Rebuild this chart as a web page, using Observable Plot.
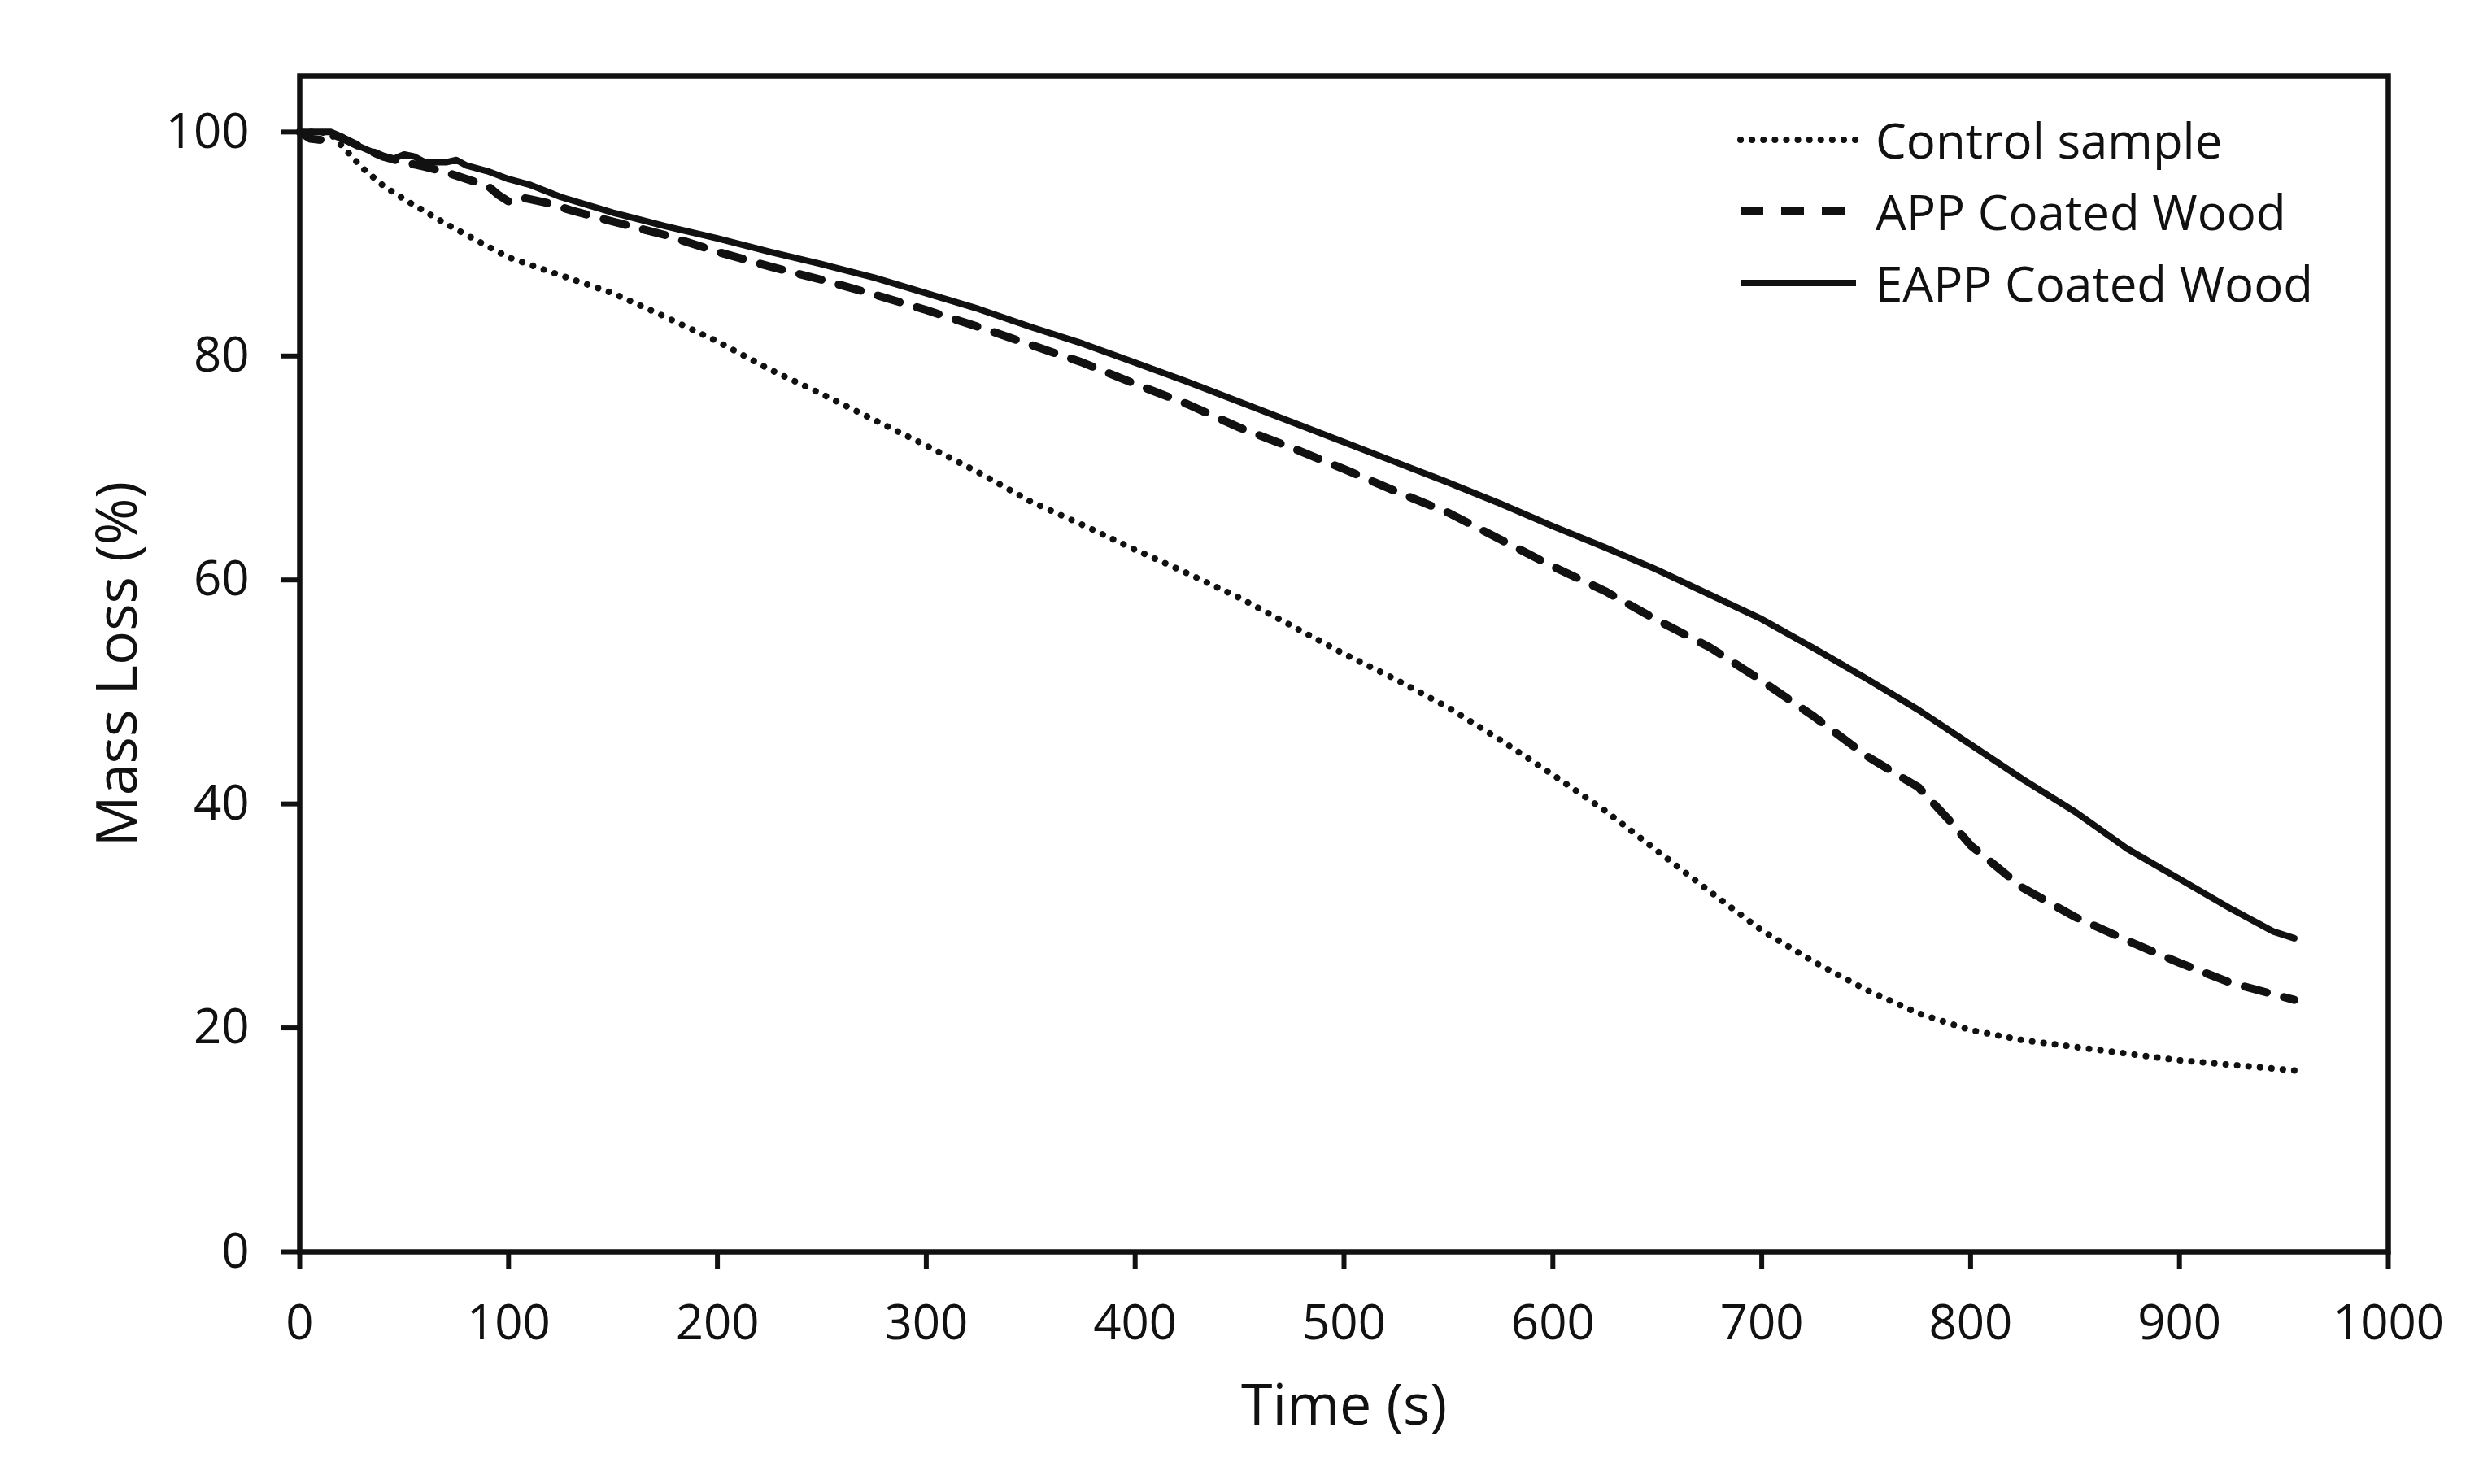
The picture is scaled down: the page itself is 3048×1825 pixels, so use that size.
<!DOCTYPE html>
<html>
<head>
<meta charset="utf-8">
<script src="https://cdn.jsdelivr.net/npm/d3@7"></script>
<script src="https://cdn.jsdelivr.net/npm/@observablehq/plot@0.6"></script>
<style>
  html, body { margin: 0; padding: 0; background: #fff; }
  #wrap { position: relative; width: 3048px; height: 1825px; font-family: "Open Sans", sans-serif; }
  #legend { position: absolute; left: 2136px; top: 128px; font-size: 60px; color: #111; line-height: 1; }
  .row { display: flex; align-items: center; height: 88px; }
  .row svg { margin-right: 20px; }
</style>
</head>
<body>
<div id="wrap"></div>
<script>
// ---- data ----
const seriesNames = ["Control sample", "APP Coated Wood", "EAPP Coated Wood"];

const controlTime = [0,5,10,15,20,25,30,40,50,60,70,80,90,100,125,150,175,200,225,250,275,300,325,350,375,400,425,450,475,500,525,550,575,600,625,650,675,700,725,750,775,800,825,850,875,900,925,955];
const controlMass = [100,100,100,99.8,98.8,97.8,96.8,95.2,94.0,92.9,91.8,90.8,89.8,88.8,87.2,85.6,83.5,81.3,78.8,76.6,74.3,72.0,69.6,67.0,64.9,62.7,60.6,58.4,55.9,53.4,51.1,48.6,45.7,42.6,39.4,35.8,32.2,28.7,25.9,23.4,21.3,19.8,18.9,18.3,17.7,17.1,16.7,16.2];

const appTime = [0,5,10,15,20,30,40,50,60,70,80,90,95,100,105,110,120,130,150,175,200,225,250,275,300,325,350,375,400,425,450,475,500,525,550,575,600,625,650,675,700,725,750,765,775,790,800,825,850,875,900,925,955];
const appMass = [100,99.4,99.3,99.8,99.5,98.6,97.8,97.3,96.9,96.4,95.8,95.2,94.4,93.8,94.2,94.0,93.6,93.0,92.0,90.8,89.3,88.0,86.8,85.5,84.1,82.6,81.0,79.4,77.5,75.7,73.6,71.8,69.9,67.9,66.0,63.6,61.2,59.0,56.4,54.0,51.0,47.8,44.3,42.6,41.5,38.5,36.3,32.5,29.9,27.8,25.8,24.0,22.5];

const eappTime = [0,5,10,15,20,25,30,40,45,50,55,60,70,75,80,90,100,110,125,150,175,200,225,250,275,300,325,350,375,400,425,450,475,500,525,550,575,600,625,650,675,700,725,750,775,800,825,850,875,900,925,945,955];
const eappMass = [100,100,100,100,99.6,99.0,98.6,97.8,97.6,98.0,97.8,97.3,97.3,97.5,97.0,96.5,95.8,95.3,94.2,92.8,91.6,90.5,89.3,88.2,87.0,85.6,84.2,82.6,81.1,79.4,77.7,75.9,74.1,72.3,70.5,68.7,66.8,64.8,62.9,60.9,58.7,56.5,53.9,51.2,48.4,45.3,42.2,39.3,36.0,33.3,30.6,28.6,28.0];

const xTicks = [0,100,200,300,400,500,600,700,800,900,1000];
const yTicks = [0,20,40,60,80,100];

// ---- build tables ----
const toRows = (ts, vs) => ts.map((t, i) => ({t, v: vs[i]}));
const control = toRows(controlTime, controlMass);
const app = toRows(appTime, appMass);
const eapp = toRows(eappTime, eappMass);

const styles = [
  {width: 8, dash: "0.1,14", cap: "round"},
  {width: 10, dash: "28,22", cap: "butt"},
  {width: 8, dash: null, cap: "butt"}
];

const fmt = d3.format("d");

const chart = Plot.plot({
  width: 3048,
  height: 1825,
  marginLeft: 368,
  marginRight: 112,
  marginTop: 93,
  marginBottom: 286,
  style: {fontFamily: "Open Sans, sans-serif", fontSize: "60px", color: "#111", background: "#fff"},
  x: {domain: [0, 1000]},
  y: {domain: [0, 105]},
  marks: [
    Plot.axisX({ticks: xTicks, tickFormat: fmt, tickSize: 22, tickPadding: 43, strokeWidth: 6, fontSize: 60, label: "Time (s)", labelAnchor: "center", labelOffset: 212, labelArrow: "none"}),
    Plot.axisY({ticks: yTicks, tickFormat: fmt, tickSize: 22, tickPadding: 40, strokeWidth: 6, fontSize: 60, label: "Mass Loss (%)", labelAnchor: "center", labelOffset: 250, labelArrow: "none"}),
    Plot.line(control, {x: "t", y: "v", stroke: "#111", strokeWidth: styles[0].width, strokeDasharray: styles[0].dash, strokeLinecap: styles[0].cap}),
    Plot.line(app, {x: "t", y: "v", stroke: "#111", strokeWidth: styles[1].width, strokeDasharray: styles[1].dash}),
    Plot.line(eapp, {x: "t", y: "v", stroke: "#111", strokeWidth: styles[2].width}),
    Plot.frame({stroke: "#111", strokeWidth: 6.5})
  ]
});

// enlarge axis titles
chart.querySelectorAll("[aria-label='x-axis label'] text, [aria-label='y-axis label'] text").forEach(t => t.setAttribute("font-size", "70"));

const wrap = document.getElementById("wrap");
wrap.appendChild(chart);

// legend overlay
const legend = document.createElement("div");
legend.id = "legend";
seriesNames.forEach((name, i) => {
  const row = document.createElement("div");
  row.className = "row";
  const s = styles[i];
  row.innerHTML = `<svg width="150" height="20"><line x1="4" y1="10" x2="146" y2="10" stroke="#111" stroke-width="${s.width}" ${s.dash ? `stroke-dasharray="${s.dash}"` : ""} stroke-linecap="${s.cap}"/></svg><span>${name}</span>`;
  legend.appendChild(row);
});
wrap.appendChild(legend);
</script>
</body>
</html>
